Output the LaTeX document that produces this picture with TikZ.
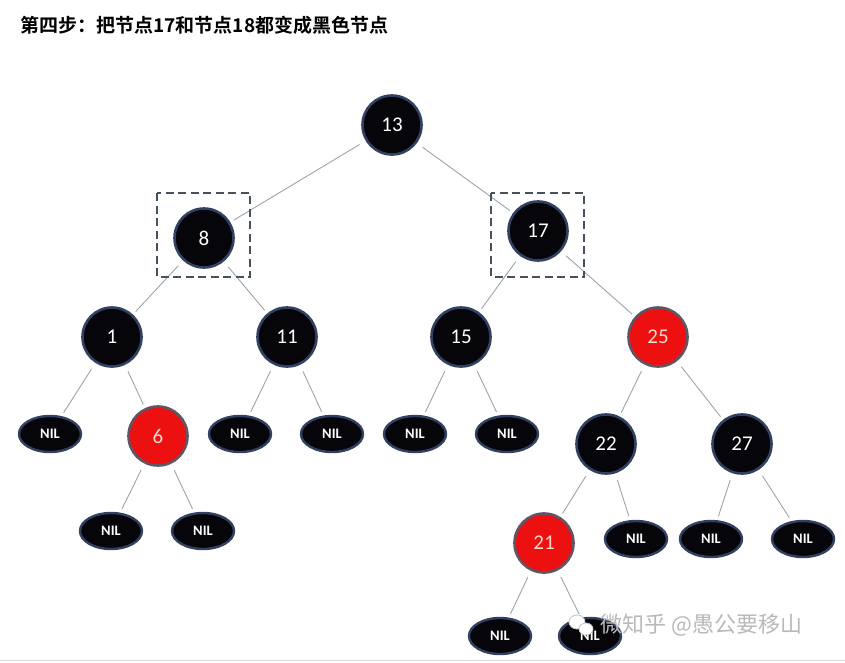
\documentclass[tikz,border=0pt]{standalone}
\usepackage{fontspec}
\usetikzlibrary{shapes.geometric}
\setmainfont{Carlito}
\newfontfamily\cjk{Noto Sans CJK SC}
\newfontfamily\cjkb{Noto Sans CJK SC Bold}
\definecolor{nodeblack}{RGB}{5,5,10}
\definecolor{rimblue}{RGB}{50,64,98}
\definecolor{nodered}{RGB}{236,16,16}
\definecolor{rimred}{RGB}{95,85,100}
\definecolor{edgegray}{RGB}{155,165,175}
\definecolor{boxgray}{RGB}{70,80,95}
\begin{document}
\begin{tikzpicture}[x=1pt,y=-1pt,
  blk/.style={circle,fill=nodeblack,draw=rimblue,line width=2.6pt,minimum size=59pt,inner sep=0pt,text=white,font=\fontsize{21}{21}\selectfont},
  rd/.style={circle,fill=nodered,draw=rimred,line width=2.6pt,minimum size=59pt,inner sep=0pt,text={rgb,255:red,255;green,215;blue,205},font=\fontsize{21}{21}\selectfont},
  nil/.style={ellipse,fill=nodeblack,draw=rimblue,line width=2.4pt,minimum width=62pt,minimum height=36pt,inner sep=0pt,text=white,font=\bfseries\fontsize{14.5}{14.5}\selectfont},
  edge/.style={draw=edgegray,line width=0.9pt,shorten <=7pt,shorten >=4pt},
  dbox/.style={draw=boxgray,line width=2.6pt,dash pattern=on 8pt off 4.5pt}
]
\useasboundingbox (0,0) rectangle (845,662);
\fill[white] (0,0) rectangle (845,662);
\draw[gray!30,line width=1pt] (0,660) -- (845,660);

\node[anchor=west,font=\cjkb\fontsize{19}{19}\selectfont] (title) at (17,25) {第四步：把节点17和节点18都变成黑色节点};

% nodes
\node[blk] (n13) at (392,125) {13};
\node[blk] (n8) at (204,238) {8};
\node[blk] (n17) at (538,231) {17};
\node[blk] (n1) at (112,337) {1};
\node[blk] (n11) at (287,337) {11};
\node[blk] (n15) at (461,337) {15};
\node[rd] (n25) at (658,337) {25};
\node[rd] (n6) at (158,436) {6};
\node[blk] (n22) at (606,444) {22};
\node[blk] (n27) at (742,444) {27};
\node[rd] (n21) at (544,543) {21};

\node[nil] (l1) at (50,434) {NIL};
\node[nil] (l2) at (240,434) {NIL};
\node[nil] (l3) at (332,434) {NIL};
\node[nil] (l4) at (415,434) {NIL};
\node[nil] (l5) at (507,434) {NIL};
\node[nil] (l6) at (111,531) {NIL};
\node[nil] (l7) at (203,531) {NIL};
\node[nil] (l8) at (636,539) {NIL};
\node[nil] (l9) at (711,539) {NIL};
\node[nil] (l10) at (803,539) {NIL};
\node[nil] (l11) at (500,636) {NIL};
\node[nil] (l12) at (590,636) {NIL};

% edges
\draw[edge] (n13) -- (n8);
\draw[edge] (n13) -- (n17);
\draw[edge] (n8) -- (n1);
\draw[edge] (n8) -- (n11);
\draw[edge] (n17) -- (n15);
\draw[edge] (n17) -- (n25);
\draw[edge] (n1) -- (l1);
\draw[edge] (n1) -- (n6);
\draw[edge] (n11) -- (l2);
\draw[edge] (n11) -- (l3);
\draw[edge] (n15) -- (l4);
\draw[edge] (n15) -- (l5);
\draw[edge] (n25) -- (n22);
\draw[edge] (n25) -- (n27);
\draw[edge] (n6) -- (l6);
\draw[edge] (n6) -- (l7);
\draw[edge] (n22) -- (n21);
\draw[edge] (n22) -- (l8);
\draw[edge] (n27) -- (l9);
\draw[edge] (n27) -- (l10);
\draw[edge] (n21) -- (l11);
\draw[edge] (n21) -- (l12);

% dashed boxes
\draw[dbox] (157,193) rectangle (250,277);
\draw[dbox] (491,193) rectangle (584,277);

% watermark
\fill[white,draw=gray!45,line width=0.8pt] (577,622) ellipse (8pt and 7pt);
\fill[white,draw=gray!45,line width=0.8pt] (586,629) ellipse (7pt and 6pt);
\node[anchor=west,text=gray!55,font=\cjk\fontsize{22}{22}\selectfont] (wm) at (597,625) {微知乎 @愚公要移山};
\end{tikzpicture}
\end{document}
